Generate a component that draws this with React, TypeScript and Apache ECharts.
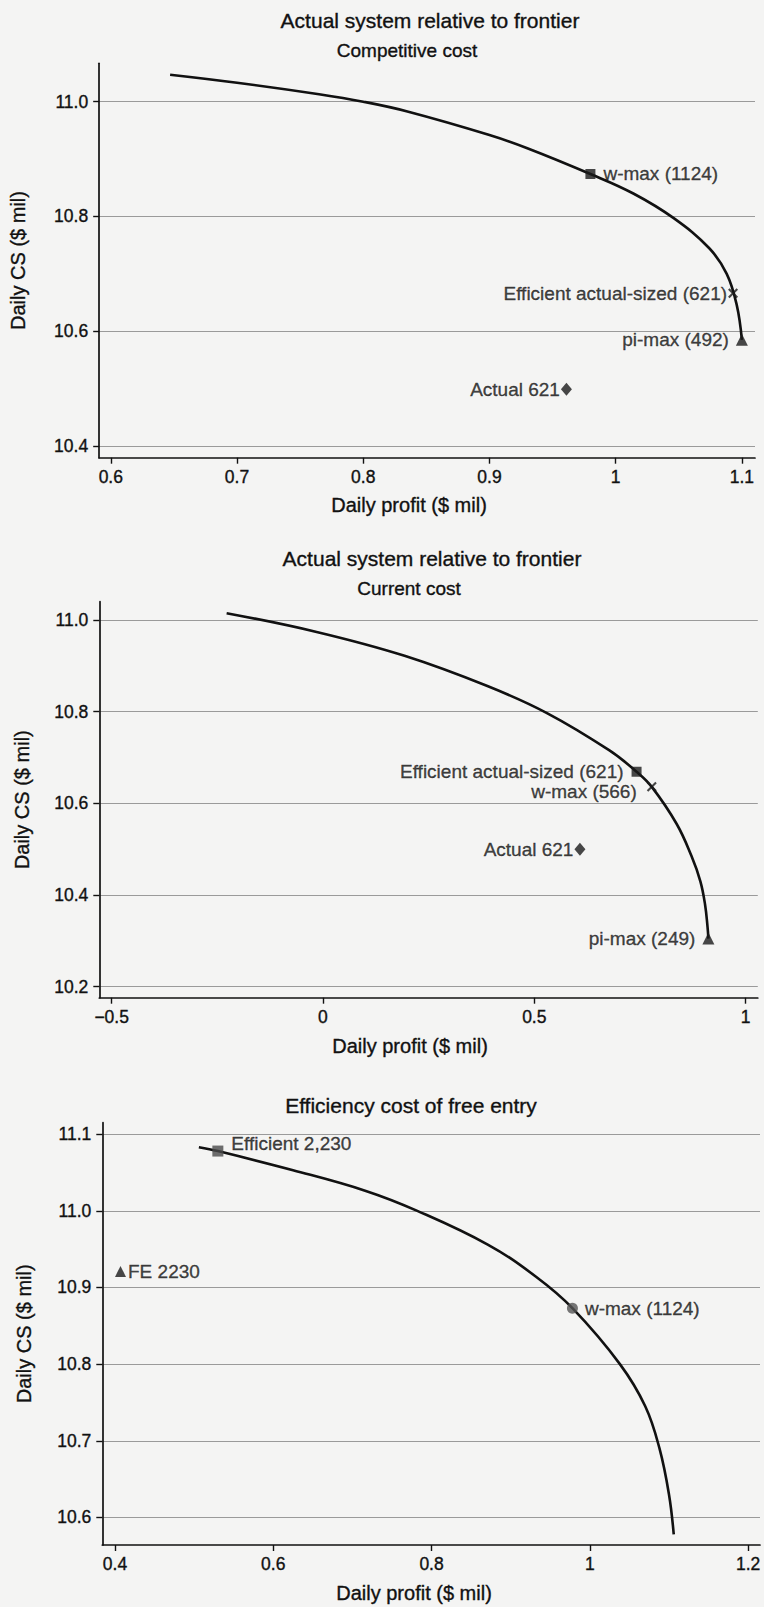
import React, { useEffect, useRef } from 'react';
import * as echarts from 'echarts';

const FONT = '"Liberation Sans", Arial, Helvetica, sans-serif';
const INK = '#111111';
const GRID = '#9a9a9a';

// ---- Panel 1: Actual system relative to frontier, Competitive cost ----
const p1Profit = [0.647, 0.70, 0.765, 0.80, 0.835, 0.90, 0.93, 0.98, 1.014, 1.046, 1.074, 1.088, 1.096, 1.10];
const p1CS = [11.047, 11.033, 11.013, 11.0, 10.983, 10.942, 10.919, 10.874, 10.840, 10.797, 10.745, 10.700, 10.645, 10.585];
const p1Names = ['w-max (1124)', 'Efficient actual-sized (621)', 'pi-max (492)', 'Actual 621'];
const p1PtProfit = [0.98, 1.093, 1.10, 0.961];
const p1PtCS = [10.874, 10.666, 10.585, 10.499];
const p1XTicks = [0.6, 0.7, 0.8, 0.9, 1, 1.1];
const p1YTicks = [10.4, 10.6, 10.8, 11.0];

// ---- Panel 2: Actual system relative to frontier, Current cost ----
const p2Profit = [-0.228, -0.015, 0.193, 0.389, 0.53, 0.677, 0.742, 0.778, 0.837, 0.872, 0.893, 0.904, 0.910, 0.912];
const p2CS = [11.015, 10.974, 10.922, 10.856, 10.797, 10.716, 10.669, 10.636, 10.555, 10.485, 10.43, 10.38, 10.33, 10.305];
const p2Names = ['Efficient actual-sized (621)', 'w-max (566)', 'Actual 621', 'pi-max (249)'];
const p2PtProfit = [0.742, 0.778, 0.608, 0.912];
const p2PtCS = [10.669, 10.636, 10.50, 10.305];
const p2XTicks = [-0.5, 0, 0.5, 1];
const p2YTicks = [10.2, 10.4, 10.6, 10.8, 11.0];

// ---- Panel 3: Efficiency cost of free entry ----
const p3Profit = [0.506, 0.53, 0.625, 0.717, 0.782, 0.871, 0.932, 0.978, 1.038, 1.070, 1.088, 1.100, 1.106];
const p3CS = [11.083, 11.078, 11.053, 11.026, 11.0, 10.956, 10.914, 10.873, 10.8, 10.745, 10.69, 10.63, 10.578];
const p3Names = ['Efficient 2,230', 'w-max (1124)', 'FE 2230'];
const p3PtProfit = [0.53, 0.978, 0.407];
const p3PtCS = [11.078, 10.873, 10.921];
const p3XTicks = [0.4, 0.6, 0.8, 1, 1.2];
const p3YTicks = [10.6, 10.7, 10.8, 10.9, 11.0, 11.1];

const titles = ['Actual system relative to frontier', 'Actual system relative to frontier', 'Efficiency cost of free entry'];
const subtitles = ['Competitive cost', 'Current cost', ''];
const xName = 'Daily profit ($ mil)';
const yName = 'Daily CS ($ mil)';

const XPATH = 'path://M0,1.5 L1.5,0 L5,3.5 L8.5,0 L10,1.5 L6.5,5 L10,8.5 L8.5,10 L5,6.5 L1.5,10 L0,8.5 L3.5,5 Z';

function zip(a: number[], b: number[]) {
  return a.map((v, i) => [v, b[i]]);
}

function fmtX(v: number) {
  const s = String(Math.round(v * 100) / 100);
  return s.replace('-', '\u2212');
}

export default function App() {
  const ref = useRef<HTMLDivElement>(null);
  useEffect(() => {
    if (!ref.current) return;
    const chart = echarts.init(ref.current, undefined, { renderer: 'svg' });

    const grids = [
      { left: 96.7, top: 63.3, width: 658.3, height: 394.4 },
      { left: 99.3, top: 601.7, width: 658.5, height: 396 },
      { left: 102.3, top: 1122.7, width: 657.7, height: 422.3 },
    ];
    const xRanges = [[0.5908, 1.1104], [-0.5293, 1.0289], [0.384, 1.215]];
    const yRanges = [[10.3796, 11.0669], [10.176, 11.04], [10.564, 11.115]];
    const xTicks = [p1XTicks, p2XTicks, p3XTicks];
    const yTicks = [p1YTicks, p2YTicks, p3YTicks];
    const yNameGaps = [71, 67, 68];

    const thick = { textBorderColor: INK, textBorderWidth: 0.35 };
    const axisLine = { show: true, onZero: false, lineStyle: { color: INK, width: 1.7 } };

    const xAxis = grids.map((g, i) => ({
      type: 'value',
      gridIndex: i,
      min: xRanges[i][0],
      max: xRanges[i][1],
      axisLine,
      axisTick: { show: true, length: 6, customValues: xTicks[i], lineStyle: { color: INK, width: 1.4 } },
      axisLabel: {
        customValues: xTicks[i],
        margin: 10,
        color: INK,
        fontSize: 17.5,
        fontFamily: FONT,
        ...thick,
        formatter: (v: number) => fmtX(v),
      },
      splitLine: { show: false },
    }));

    const yAxis = grids.map((g, i) => ({
      type: 'value',
      gridIndex: i,
      min: yRanges[i][0],
      max: yRanges[i][1],
      name: yName,
      nameLocation: 'middle',
      nameRotate: 90,
      nameGap: yNameGaps[i],
      nameTextStyle: { fontSize: 20, color: INK, fontFamily: FONT, ...thick },
      axisLine,
      axisTick: { show: true, length: 6, customValues: yTicks[i], lineStyle: { color: INK, width: 1.4 } },
      axisLabel: {
        customValues: yTicks[i],
        margin: 11,
        color: INK,
        fontSize: 17.5,
        fontFamily: FONT,
        ...thick,
        formatter: (v: number) => v.toFixed(1),
      },
      splitLine: { show: true, lineStyle: { color: GRID, width: 1.2 } },
    }));

    const curves = [zip(p1Profit, p1CS), zip(p2Profit, p2CS), zip(p3Profit, p3CS)];

    const lblBase = { show: true, color: INK, fontSize: 19, fontFamily: FONT, formatter: '{b}', ...thick };

    const pts1 = [
      { name: p1Names[0], value: [p1PtProfit[0], p1PtCS[0]], symbol: 'rect', symbolSize: 10, label: { ...lblBase, position: 'right', distance: 8 } },
      { name: p1Names[1], value: [p1PtProfit[1], p1PtCS[1]], symbol: XPATH, symbolSize: 10, label: { ...lblBase, position: 'left', distance: 1 } },
      { name: p1Names[2], value: [p1PtProfit[2], p1PtCS[2]], symbol: 'triangle', symbolSize: 12, label: { ...lblBase, position: 'left', distance: 7 } },
      { name: p1Names[3], value: [p1PtProfit[3], p1PtCS[3]], symbol: 'diamond', symbolSize: [11, 13], label: { ...lblBase, position: 'left', distance: 1 } },
    ];
    const pts2 = [
      { name: p2Names[0], value: [p2PtProfit[0], p2PtCS[0]], symbol: 'rect', symbolSize: 10, label: { ...lblBase, position: 'left', distance: 8 } },
      { name: p2Names[1], value: [p2PtProfit[1], p2PtCS[1]], symbol: XPATH, symbolSize: 10, label: { ...lblBase, position: 'left', distance: 10, offset: [0, 5] } },
      { name: p2Names[2], value: [p2PtProfit[2], p2PtCS[2]], symbol: 'diamond', symbolSize: [11, 13], label: { ...lblBase, position: 'left', distance: 1 } },
      { name: p2Names[3], value: [p2PtProfit[3], p2PtCS[3]], symbol: 'triangle', symbolSize: 12, label: { ...lblBase, position: 'left', distance: 7 } },
    ];
    const pts3 = [
      { name: p3Names[0], value: [p3PtProfit[0], p3PtCS[0]], symbol: 'rect', symbolSize: 11, itemStyle: { color: '#4a4a4a' }, label: { ...lblBase, position: 'right', distance: 8, offset: [0, -8] } },
      { name: p3Names[1], value: [p3PtProfit[1], p3PtCS[1]], symbol: 'circle', symbolSize: 11, itemStyle: { color: '#555555' }, label: { ...lblBase, position: 'right', distance: 7 } },
      { name: p3Names[2], value: [p3PtProfit[2], p3PtCS[2]], symbol: 'triangle', symbolSize: 11, label: { ...lblBase, position: 'right', distance: 2 } },
    ];
    const pts = [pts1, pts2, pts3];

    const series: any[] = [];
    grids.forEach((g, i) => {
      series.push({
        type: 'line',
        xAxisIndex: i,
        yAxisIndex: i,
        data: curves[i],
        showSymbol: false,
        smooth: 0.4,
        lineStyle: { color: '#111', width: 2.6 },
        silent: true,
        z: 2,
      });
      series.push({
        type: 'scatter',
        xAxisIndex: i,
        yAxisIndex: i,
        data: pts[i],
        itemStyle: { color: '#1a1a1a' },
        silent: true,
        z: 3,
      });
    });

    const txt = (text: string, x: number, y: number, size: number) => ({
      type: 'text',
      x,
      y,
      style: {
        text,
        font: `${size}px ${FONT}`,
        fill: INK,
        stroke: INK,
        lineWidth: 0.35,
        align: 'center',
        verticalAlign: 'middle',
        textAlign: 'center',
        textVerticalAlign: 'middle',
      },
    });

    const graphic = [
      txt(titles[0], 430, 20, 21),
      txt(subtitles[0], 407, 50, 19),
      txt(xName, 409, 505, 20),
      txt(titles[1], 432, 558, 21),
      txt(subtitles[1], 409, 588, 19),
      txt(xName, 410, 1046, 20),
      txt(titles[2], 411, 1105, 21),
      txt(xName, 414, 1593, 20),
    ];

    chart.setOption({
      animation: false,
      backgroundColor: '#f4f4f3',
      textStyle: { fontFamily: FONT },
      grid: grids,
      xAxis,
      yAxis,
      series,
      graphic,
    });
    return () => chart.dispose();
  }, []);
  return <div ref={ref} style={{ position: 'absolute', left: 0, top: 0, width: 764, height: 1607 }} />;
}
